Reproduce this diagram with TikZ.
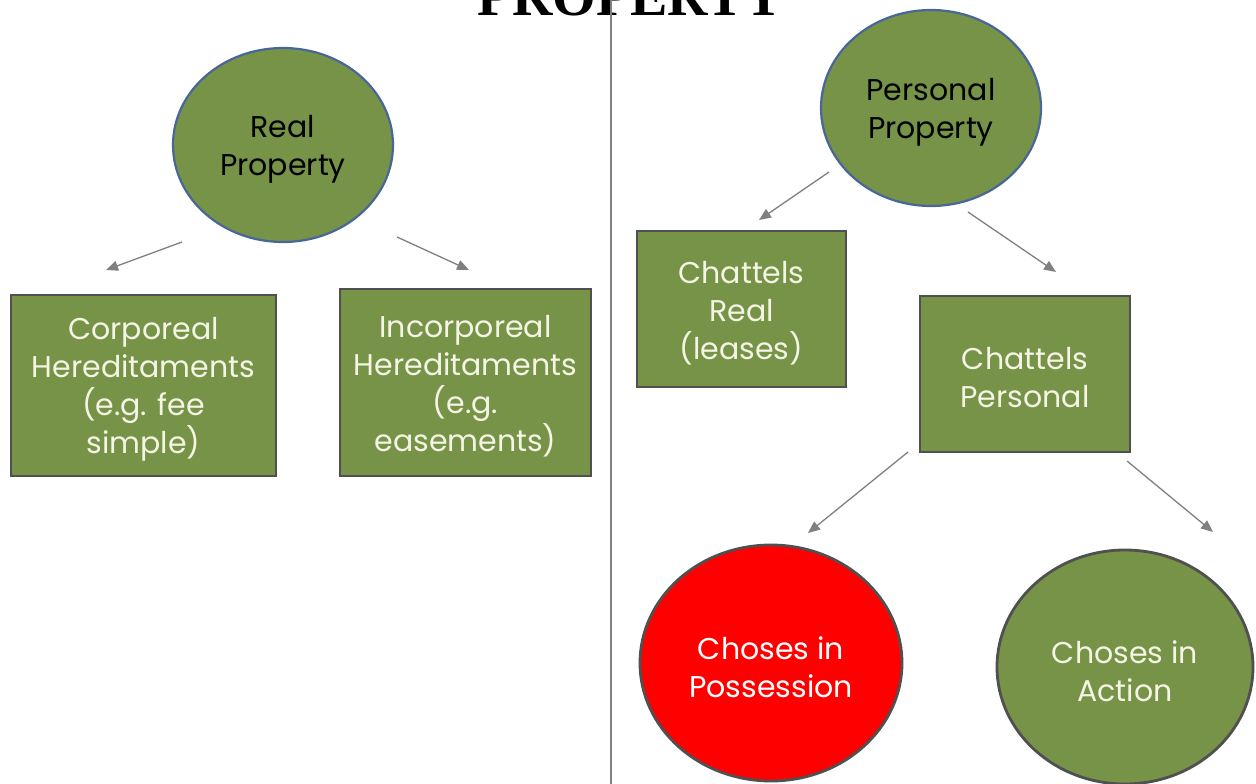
\documentclass[tikz,border=0pt]{standalone}
\usepackage{fontspec}
\setmainfont{Poppins}
\newfontfamily\titlefont{Liberation Serif}
\usetikzlibrary{shapes.geometric,arrows.meta}
\definecolor{olive}{RGB}{119,147,71}
\definecolor{ringblue}{RGB}{72,102,152}
\definecolor{boxedge}{RGB}{80,80,80}
\definecolor{txtlight}{RGB}{245,245,230}
\definecolor{arrowgray}{RGB}{128,128,128}
\tikzset{
  every node/.style={inner sep=0pt, outer sep=0pt},
  lbl/.style={font=\fontsize{30}{38}\selectfont, align=center, yshift=-4pt},
  topoval/.style={ellipse, draw=ringblue, line width=2.2pt, fill=olive},
  catbox/.style={rectangle, draw=boxedge, line width=2.8pt, fill=olive},
  lowoval/.style={ellipse, draw=boxedge, line width=2.8pt},
  dark/.style={lbl, text=black},
  light/.style={lbl, text=txtlight},
  conn/.style={draw=arrowgray, line width=1.3pt, -{Triangle[length=12pt,width=10pt]}}
}
\begin{document}
\begin{tikzpicture}[x=1pt,y=-1pt]
\useasboundingbox (0,0) rectangle (1256,784);
\fill[white] (0,0) rectangle (1256,784);
% title
\node[anchor=base, font=\titlefont\bfseries\fontsize{56}{60}\selectfont] (title) at (631,16) {PROPERTY};
% divider
\coordinate (divtop) at (611,0);
\coordinate (divbot) at (611,784);
\draw[arrowgray, line width=1.3pt] (divtop) -- (divbot);
% nodes
\node[topoval, minimum width=220pt, minimum height=194pt, label={[dark]center:{Real\\Property}}] (real) at (283,145) {};
\node[topoval, minimum width=220pt, minimum height=196pt, label={[dark]center:{Personal\\Property}}] (pers) at (931,108) {};
\node[catbox, minimum width=265pt, minimum height=181pt, label={[light]center:{Corporeal\\Hereditaments\\(e.g. fee\\simple)}}] (corp) at (143.5,385.5) {};
\node[catbox, minimum width=251pt, minimum height=187pt, label={[light]center:{Incorporeal\\Hereditaments\\(e.g.\\easements)}}] (incorp) at (465.5,382.5) {};
\node[catbox, minimum width=209pt, minimum height=156pt, label={[light]center:{Chattels\\Real\\(leases)}}] (creal) at (741.5,309) {};
\node[catbox, minimum width=210pt, minimum height=156pt, label={[light]center:{Chattels\\Personal}}] (cpers) at (1025,374) {};
\node[lowoval, fill=red, minimum width=262pt, minimum height=236pt, label={[lbl,text=white]center:{Choses in\\Possession}}] (poss) at (771,663) {};
\node[lowoval, fill=olive, minimum width=256pt, minimum height=234pt, label={[light]center:{Choses in\\Action}}] (act) at (1125,667) {};
% arrow endpoints
\coordinate (a1s) at (182,242); \coordinate (a1e) at (106,270);
\coordinate (a2s) at (397,237); \coordinate (a2e) at (469,270);
\coordinate (a3s) at (829,172); \coordinate (a3e) at (759,220);
\coordinate (a4s) at (968,212); \coordinate (a4e) at (1056,272);
\coordinate (a5s) at (908,452); \coordinate (a5e) at (808,533);
\coordinate (a6s) at (1127,461); \coordinate (a6e) at (1213,532);
\draw[conn] (a1s) -- (a1e);
\draw[conn] (a2s) -- (a2e);
\draw[conn] (a3s) -- (a3e);
\draw[conn] (a4s) -- (a4e);
\draw[conn] (a5s) -- (a5e);
\draw[conn] (a6s) -- (a6e);
\end{tikzpicture}
\end{document}
